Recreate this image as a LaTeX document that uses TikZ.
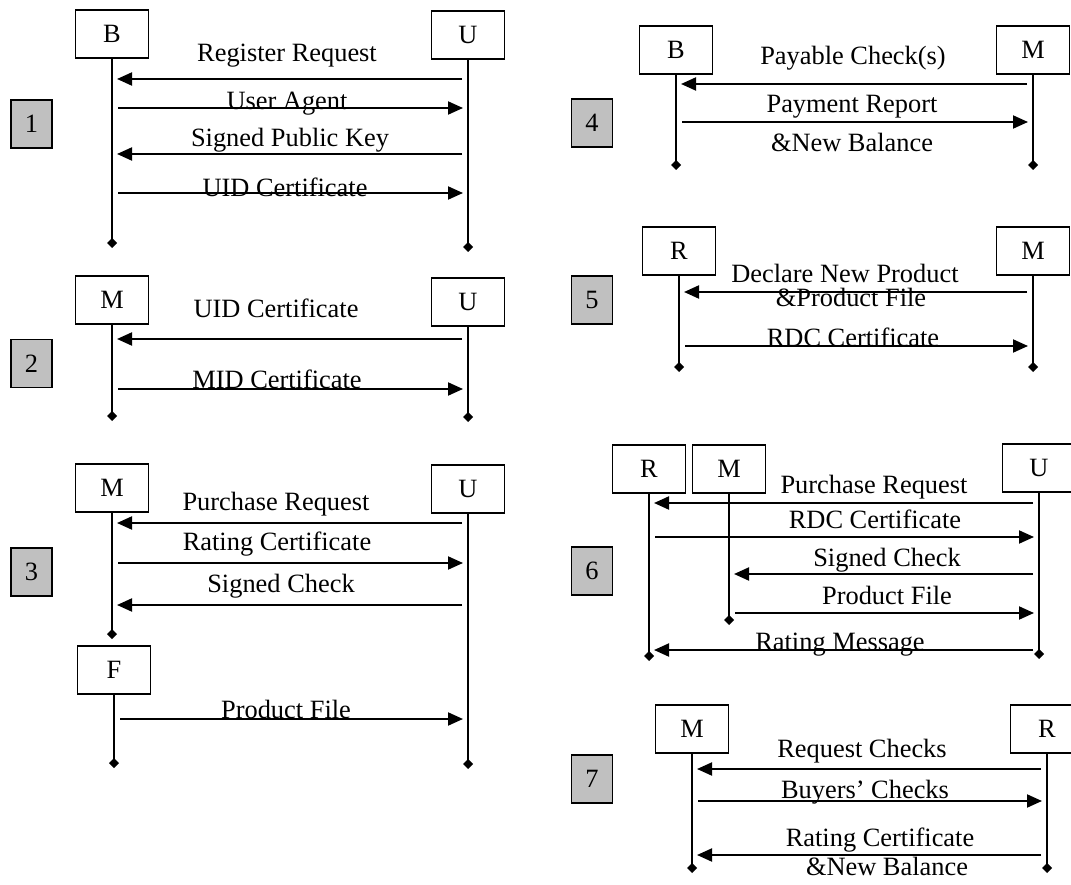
\documentclass[tikz,border=0pt]{standalone}
\usepackage{fontspec}
\setmainfont{Liberation Serif}
\usetikzlibrary{arrows.meta}
\definecolor{stepgrey}{HTML}{C0C0C0}

\begin{document}
\begin{tikzpicture}[x=1pt,y=-1pt,font=\fontsize{26.4}{30}\selectfont,
  actor/.style={draw,line width=1.5pt,minimum width=73pt,minimum height=48pt,inner sep=0pt},
  stepbox/.style={draw,line width=1.5pt,fill=stepgrey,minimum width=41pt,minimum height=48pt,inner sep=0pt},
  life/.style={line width=2pt,-{Diamond[length=10pt,width=10pt]}},
  msg/.style={line width=2pt,-{Triangle[length=15pt,width=13pt]},shorten <=6pt,shorten >=5pt},
  lbl/.style={anchor=base,inner sep=0pt}]

\useasboundingbox (0,0) rectangle (1071,885);

\def\ax{112} \def\bx{468}

% step numbers
\node [stepbox] (n1) at (31.5,124) {1};
\node [stepbox] (n2) at (31.5,363.5) {2};
\node [stepbox] (n3) at (31.5,572) {3};
\node [stepbox] (n4) at (592,123) {4};
\node [stepbox] (n5) at (592,300) {5};
\node [stepbox] (n6) at (592,571) {6};
\node [stepbox] (n7) at (592,779) {7};

% 1: registration
\node [actor] (1_B) at (\ax,34) {B};
\node [actor] (1_U) at (\bx,35) {U};
\draw [life] (1_B.south) -- (1_B.south |- 0,248);
\draw [life] (1_U.south) -- (1_U.south |- 0,252);
\draw [msg] (1_U |- 0,79) -- (1_B |- 0,79);
\draw [msg] (1_B |- 0,108) -- (1_U |- 0,108);
\draw [msg] (1_U |- 0,154) -- (1_B |- 0,154);
\draw [msg] (1_B |- 0,193) -- (1_U |- 0,193);
\node [lbl] (1_m1) at (287,62) {Register Request};
\node [lbl] (1_m2) at (287,110) {User Agent};
\node [lbl] (1_m3) at (290,147) {Signed Public Key};
\node [lbl] (1_m4) at (285,197) {UID Certificate};

% 2
\node [actor] (2_M) at (\ax,300) {M};
\node [actor] (2_U) at (\bx,302) {U};
\draw [life] (2_M.south) -- (2_M.south |- 0,421);
\draw [life] (2_U.south) -- (2_U.south |- 0,422);
\draw [msg] (2_U |- 0,339) -- (2_M |- 0,339);
\draw [msg] (2_M |- 0,389) -- (2_U |- 0,389);
\node [lbl] (2_m1) at (276,318) {UID Certificate};
\node [lbl] (2_m2) at (277,388) {MID Certificate};

% 3
\node [actor] (3_M) at (\ax,488) {M};
\node [actor] (3_U) at (\bx,489) {U};
\node [actor] (3_F) at (114,670) {F};
\draw [life] (3_M.south) -- (3_M.south |- 0,639);
\draw [life] (3_U.south) -- (3_U.south |- 0,769);
\draw [life] (3_F.south) -- (3_F.south |- 0,768);
\draw [msg] (3_U |- 0,523) -- (3_M |- 0,523);
\draw [msg] (3_M |- 0,563) -- (3_U |- 0,563);
\draw [msg] (3_U |- 0,605) -- (3_M |- 0,605);
\draw [msg] (3_F |- 0,719) -- (3_U |- 0,719);
\node [lbl] (3_m1) at (276,510) {Purchase Request};
\node [lbl] (3_m2) at (277,550) {Rating Certificate};
\node [lbl] (3_m3) at (281,592) {Signed Check};
\node [lbl] (3_m4) at (286,718) {Product File};

% 4
\node [actor] (4_B) at (676,50) {B};
\node [actor] (4_M) at (1033,50) {M};
\draw [life] (4_B.south) -- (4_B.south |- 0,170);
\draw [life] (4_M.south) -- (4_M.south |- 0,170);
\draw [msg] (4_M |- 0,84) -- (4_B |- 0,84);
\draw [msg] (4_B |- 0,122) -- (4_M |- 0,122);
\node [lbl] (4_m1) at (853,65) {Payable Check(s)};
\node [lbl] (4_m2) at (852,113) {Payment Report};
\node [lbl] (4_m3) at (852,152) {\&New Balance};

% 5
\node [actor] (5_R) at (679,251) {R};
\node [actor] (5_M) at (1033,251) {M};
\draw [life] (5_R.south) -- (5_R.south |- 0,372);
\draw [life] (5_M.south) -- (5_M.south |- 0,372);
\draw [msg] (5_M |- 0,292) -- (5_R |- 0,292);
\draw [msg] (5_R |- 0,346) -- (5_M |- 0,346);
\node [lbl] (5_m1) at (845,283) {Declare New Product};
\node [lbl] (5_m2) at (851,307) {\&Product File};
\node [lbl] (5_m3) at (853,347) {RDC Certificate};

% 6
\node [actor] (6_R) at (649,469) {R};
\node [actor] (6_M) at (729,469) {M};
\node [actor] (6_U) at (1039,468) {U};
\draw [life] (6_R.south) -- (6_R.south |- 0,661);
\draw [life] (6_M.south) -- (6_M.south |- 0,625);
\draw [life] (6_U.south) -- (6_U.south |- 0,659);
\draw [msg] (6_U |- 0,503) -- (6_R |- 0,503);
\draw [msg] (6_R |- 0,537) -- (6_U |- 0,537);
\draw [msg] (6_U |- 0,574) -- (6_M |- 0,574);
\draw [msg] (6_M |- 0,613) -- (6_U |- 0,613);
\draw [msg] (6_U |- 0,650) -- (6_R |- 0,650);
\node [lbl] (6_m1) at (874,493) {Purchase Request};
\node [lbl] (6_m2) at (875,528) {RDC Certificate};
\node [lbl] (6_m3) at (887,566) {Signed Check};
\node [lbl] (6_m4) at (887,604) {Product File};
\node [lbl] (6_m5) at (840,650) {Rating Message};

% 7
\node [actor] (7_M) at (692,729) {M};
\node [actor] (7_R) at (1047,729) {R};
\draw [life] (7_M.south) -- (7_M.south |- 0,873);
\draw [life] (7_R.south) -- (7_R.south |- 0,873);
\draw [msg] (7_R |- 0,769) -- (7_M |- 0,769);
\draw [msg] (7_M |- 0,801) -- (7_R |- 0,801);
\draw [msg] (7_R |- 0,855) -- (7_M |- 0,855);
\node [lbl] (7_m1) at (862,757) {Request Checks};
\node [lbl] (7_m2) at (865,798) {Buyers’ Checks};
\node [lbl] (7_m3) at (880,846) {Rating Certificate};
\node [lbl] (7_m4) at (887,875) {\&New Balance};
\end{tikzpicture}
\end{document}
